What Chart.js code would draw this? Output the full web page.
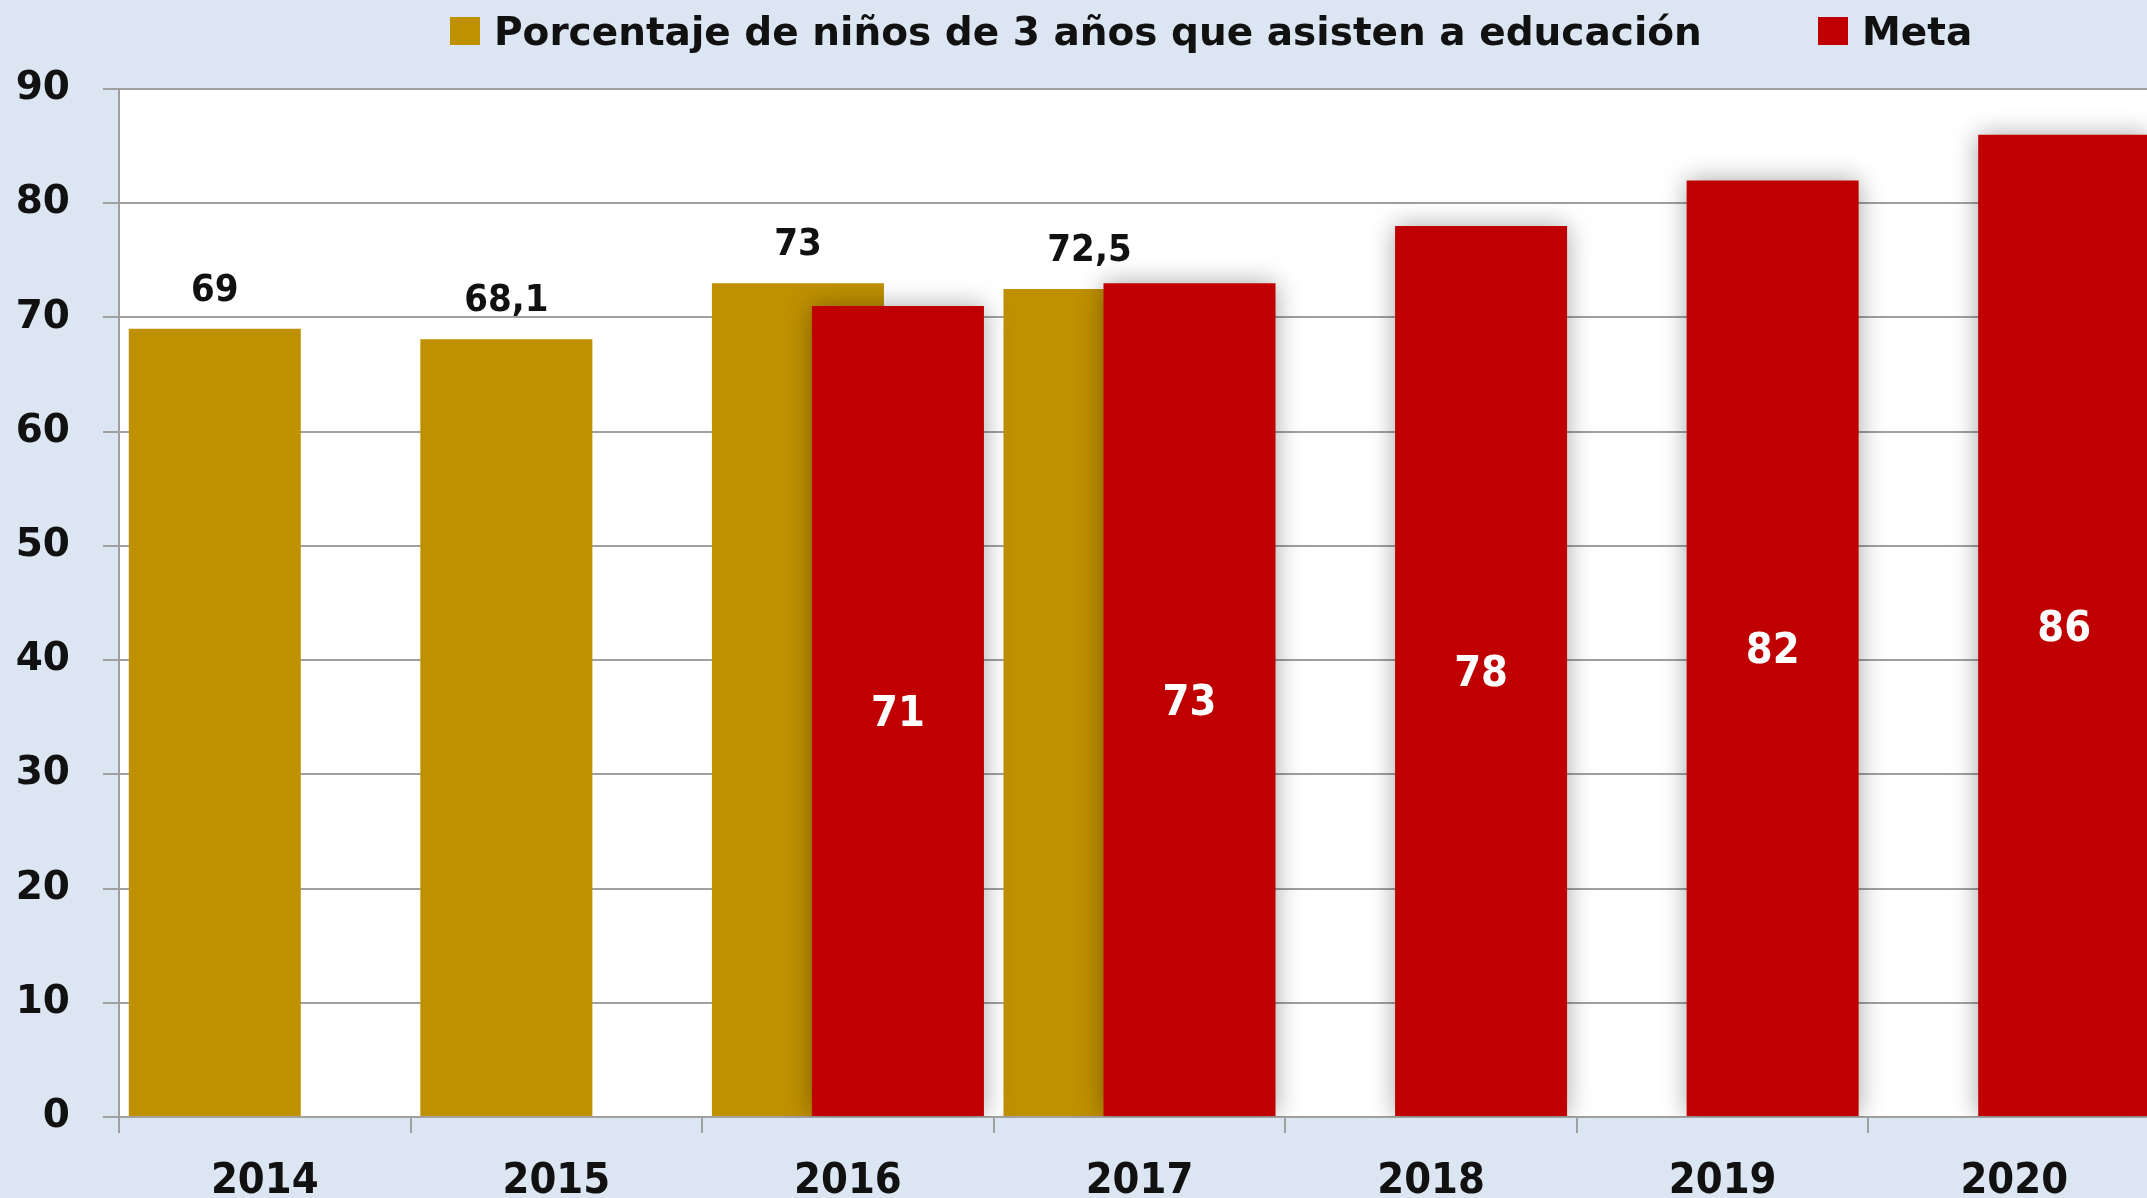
<!DOCTYPE html>
<html lang="es">
<head>
<meta charset="utf-8">
<title>Porcentaje de niños de 3 años que asisten a educación</title>
<script src="https://cdn.jsdelivr.net/npm/chart.js@4.4.1/dist/chart.umd.min.js"></script>
<style>
    html, body { margin: 0; padding: 0; overflow: hidden; background: #dce6f2; }
    #wrap { position: relative; width: 2172px; height: 1198px; background: #dce6f2; }
    #chart { position: absolute; left: 0; top: 0; }
    .lg-item {
        position: absolute; top: 11px; height: 40px;
        display: flex; align-items: center;
        font: bold 39px 'DejaVu Sans', sans-serif;
        color: #111; white-space: nowrap;
    }
    .lg-box { width: 30px; height: 28px; margin-right: 14px; }
</style>
</head>
<body>
<div id="wrap">
    <canvas id="chart" width="2172" height="1198"></canvas>
    <div id="legend"></div>
</div>
<script>
// ========== DATA ==========
const years = ['2014', '2015', '2016', '2017', '2018', '2019', '2020'];
const ninos = [69, 68.1, 73, 72.5, null, null, null];
const meta = [null, null, 71, 73, 78, 82, 86];
const seriesNames = ['Porcentaje de niños de 3 años que asisten a educación', 'Meta'];
const yTicks = [0, 10, 20, 30, 40, 50, 60, 70, 80, 90];

const GOLD = '#bf9000';
const RED = '#c00000';
const FONT = "'DejaVu Sans Condensed', 'DejaVu Sans', sans-serif";
const FONT_WIDE = "'DejaVu Sans', sans-serif";

// HTML legend, placed like the original
const legendPos = [450, 1818];
document.getElementById('legend').innerHTML = seriesNames.map((name, i) => `
    <div class="lg-item" style="left:${legendPos[i]}px">
        <span class="lg-box" style="background:${i === 0 ? GOLD : RED}"></span>${name}
    </div>
`).join('');

const fmt = v => String(v).replace('.', ',');

// white plot area behind the grid
const plotBg = {
    id: 'plotBg',
    beforeDraw(chart) {
        const { ctx, chartArea: a } = chart;
        ctx.save();
        ctx.fillStyle = '#ffffff';
        ctx.fillRect(a.left, a.top, a.right - a.left, a.bottom - a.top);
        ctx.restore();
    }
};

// red bars drawn last (on top of gold) with a soft shadow, then the value labels
const barsOnTop = {
    id: 'barsOnTop',
    beforeDatasetDraw(chart, args) {
        if (args.index === 1) return false;
    },
    afterDatasetsDraw(chart) {
        const { ctx, chartArea: a } = chart;
        const redMeta = chart.getDatasetMeta(1);
        ctx.save();
        ctx.beginPath();
        ctx.rect(a.left, a.top, a.right - a.left, a.bottom - a.top);
        ctx.clip();
        ctx.shadowColor = 'rgba(0, 0, 0, 0.35)';
        ctx.shadowBlur = 24;
        redMeta.controller.draw();
        ctx.restore();

        ctx.save();
        ctx.textAlign = 'center';
        // gold labels above the bars
        ctx.font = `bold 38px ${FONT}`;
        ctx.fillStyle = '#111111';
        ctx.textBaseline = 'alphabetic';
        chart.getDatasetMeta(0).data.forEach((bar, i) => {
            if (ninos[i] == null) return;
            ctx.fillText(fmt(ninos[i]), bar.x, bar.y - 28);
        });
        // white labels in the middle of the red bars
        ctx.font = `bold 43px ${FONT}`;
        ctx.fillStyle = '#ffffff';
        ctx.textBaseline = 'middle';
        redMeta.data.forEach((bar, i) => {
            if (meta[i] == null) return;
            ctx.fillText(fmt(meta[i]), bar.x, (bar.y + bar.base) / 2 + 4);
        });
        ctx.restore();
    }
};

const ctx = document.getElementById('chart').getContext('2d');
new Chart(ctx, {
    type: 'bar',
    data: {
        labels: years,
        datasets: [
            {
                label: seriesNames[0],
                data: ninos,
                backgroundColor: GOLD,
                borderWidth: 0
            },
            {
                label: seriesNames[1],
                data: meta,
                backgroundColor: RED,
                borderWidth: 0
            }
        ]
    },
    options: {
        responsive: false,
        animation: false,
        devicePixelRatio: 1,
        categoryPercentage: 0.686,
        barPercentage: 1.72,
        layout: { padding: { left: 0, right: 12, top: 89, bottom: 0 } },
        plugins: {
            legend: { display: false },
            tooltip: { enabled: false }
        },
        scales: {
            x: {
                offset: true,
                grid: {
                    offset: true,
                    drawOnChartArea: false,
                    drawTicks: true,
                    tickLength: 16,
                    color: '#a0a0a0',
                    lineWidth: 2
                },
                border: { display: true, color: '#a0a0a0', width: 2 },
                ticks: {
                    color: '#111111',
                    padding: 23,
                    font: { family: FONT, size: 43, weight: 'bold' }
                },
                afterFit: scale => { scale.height = 81; }
            },
            y: {
                min: 0,
                max: 90,
                afterBuildTicks: scale => { scale.ticks = yTicks.map(v => ({ value: v })); },
                grid: {
                    color: '#a0a0a0',
                    lineWidth: 2,
                    tickLength: 16
                },
                border: { display: true, color: '#a0a0a0', width: 2 },
                ticks: {
                    color: '#111111',
                    padding: 33,
                    font: { family: FONT_WIDE, size: 39, weight: 'bold' }
                },
                afterFit: scale => { scale.width = 119; }
            }
        }
    },
    plugins: [plotBg, barsOnTop]
});
</script>
</body>
</html>
